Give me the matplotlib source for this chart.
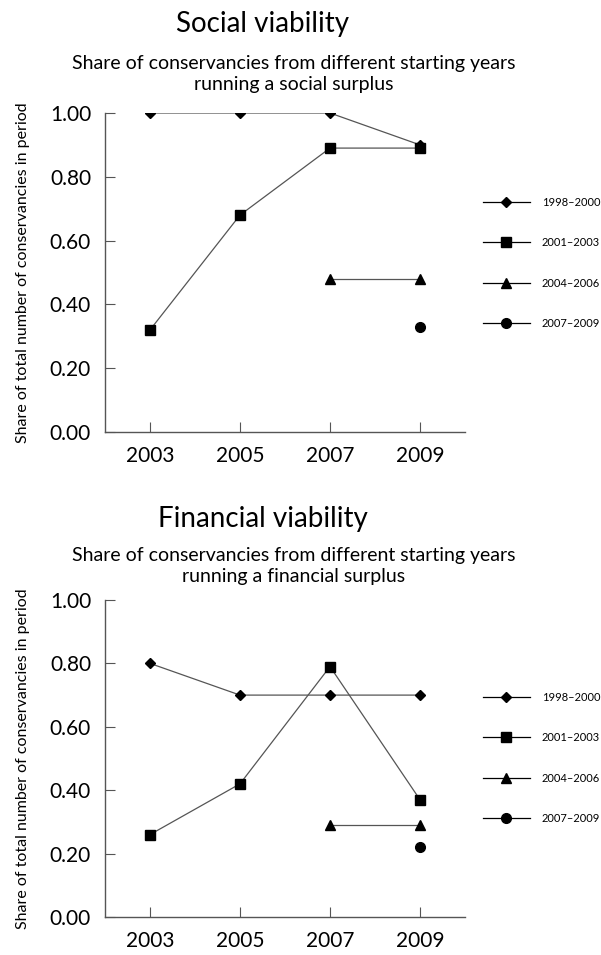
import matplotlib.pyplot as plt

plt.rcParams['font.family'] = ['Lato', 'DejaVu Sans']

years = [2003, 2005, 2007, 2009]
cohorts = ['1998–2000', '2001–2003', '2004–2006', '2007–2009']

# social surplus shares, None = cohort not yet started
social_9800 = [1.00, 1.00, 1.00, 0.90]
social_0103 = [0.32, 0.68, 0.89, 0.89]
social_0406 = [None, None, 0.48, 0.48]
social_0709 = [None, None, None, 0.33]

# financial surplus shares
fin_9800 = [0.80, 0.70, 0.70, 0.70]
fin_0103 = [0.26, 0.42, 0.79, 0.37]
fin_0406 = [None, None, 0.29, 0.29]
fin_0709 = [None, None, None, 0.22]

yticks = [0.0, 0.2, 0.4, 0.6, 0.8, 1.0]
ylab = 'Share of total number of conservancies in period'

markers = ['D', 's', '^', 'o']
msizes = [5, 7, 7, 7]

fig = plt.figure(figsize=(6.01, 9.55), dpi=100)


def panel(rect, series, title, sub, title_y, sub_y, leg_y):
    ax = fig.add_axes(rect)
    for vals, m, ms, lab in zip(series, markers, msizes, cohorts):
        xs = [x for x, v in zip(years, vals) if v is not None]
        ys = [v for v in vals if v is not None]
        ax.plot(xs, ys, color='#555555', lw=0.9, marker=m, ms=ms,
                mfc='black', mec='black', label=lab)
    ax.set_xlim(2002, 2010)
    ax.set_ylim(0, 1)
    ax.set_xticks(years)
    ax.set_yticks(yticks)
    ax.set_yticklabels(['%.2f' % t for t in yticks])
    ax.spines['top'].set_visible(False)
    ax.spines['right'].set_visible(False)
    for s in ['left', 'bottom']:
        ax.spines[s].set_color('#555555')
        ax.spines[s].set_linewidth(1.0)
    ax.tick_params(direction='in', length=7, color='#555555', labelsize=15, pad=10)
    ax.set_ylabel(ylab, fontsize=11.5, labelpad=14)
    fig.text(263 / 601, title_y, title, ha='center', va='center', fontsize=20)
    fig.text(294 / 601, sub_y, sub, ha='center', va='center', fontsize=14,
             linespacing=1.25)
    leg = fig.legend(*ax.get_legend_handles_labels(), loc='center left',
                     bbox_to_anchor=(483 / 601, leg_y), frameon=False,
                     fontsize=8, labelspacing=2.65, handlelength=4.2,
                     handletextpad=1.1, borderpad=0, borderaxespad=0)
    for h in leg.legend_handles:
        h.set_color('black')
    return ax


panel([105 / 601, 1 - 432 / 955, 360 / 601, 319 / 955],
      [social_9800, social_0103, social_0406, social_0709],
      'Social viability',
      'Share of conservancies from different starting years\nrunning a social surplus',
      1 - 24 / 955, 1 - 74 / 955, 1 - 263 / 955)

panel([105 / 601, 1 - 917 / 955, 360 / 601, 317 / 955],
      [fin_9800, fin_0103, fin_0406, fin_0709],
      'Financial viability',
      'Share of conservancies from different starting years\nrunning a financial surplus',
      1 - 519 / 955, 1 - 566 / 955, 1 - 758 / 955)

fig.savefig('out.png', dpi=100)
